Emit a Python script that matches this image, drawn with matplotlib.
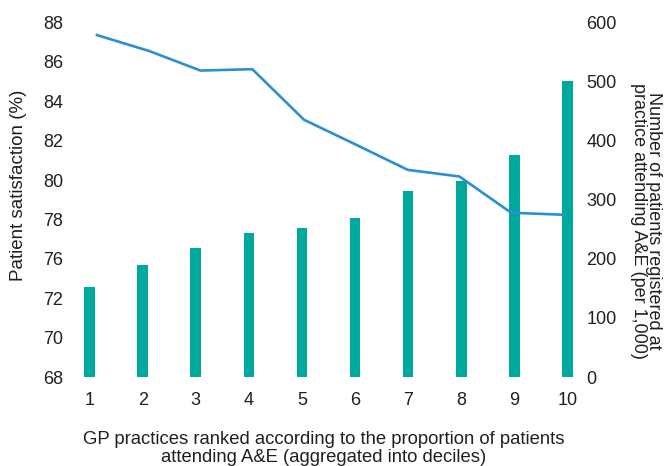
import matplotlib
matplotlib.use("Agg")
import matplotlib.pyplot as plt
from matplotlib.ticker import FixedLocator, FixedFormatter

plt.rcParams['font.family'] = ['Liberation Sans', 'DejaVu Sans']

deciles = [1, 2, 3, 4, 5, 6, 7, 8, 9, 10]
attendance = [153, 190, 218, 244, 253, 269, 315, 331, 375, 501]
satisfaction = [87.36, 86.56, 85.56, 85.63, 83.06, 81.8, 80.52, 80.18, 78.34, 78.24]
left_tick_pos = [70, 72, 74, 76, 78, 80, 82, 84, 86, 88]
left_tick_labels = ['68', '70', '72', '76', '78', '80', '82', '84', '86', '88']
right_ticks = [0, 100, 200, 300, 400, 500, 600]

W, H = 665, 466
fig = plt.figure(figsize=(W / 100, H / 100), dpi=100)
x0, x1, y0, y1 = 70, 578, 22.5, 377
rect = [x0 / W, (H - y1) / H, (x1 - x0) / W, (y1 - y0) / H]

txt = '#231f20'
bar_c = '#00a99d'
line_c = '#2b8fd0'

# bar axes (right y axis, x ticks)
axb = fig.add_axes(rect)
axb.bar(deciles, attendance, width=0.2, color=bar_c, zorder=1)
axb.set_ylim(0, 600)
axb.set_xlim(0.63, 10.2)
axb.set_xticks(deciles)
axb.yaxis.tick_right()
axb.yaxis.set_label_position('right')
axb.yaxis.set_major_locator(FixedLocator(right_ticks))

# line axes (left y axis)
ax = fig.add_axes(rect)
ax.patch.set_visible(False)
ax.plot(deciles, satisfaction, color=line_c, lw=1.9, zorder=3)
ax.set_ylim(70, 88)
ax.set_xlim(0.479, 10.29)
ax.set_xticks([])
ax.yaxis.set_major_locator(FixedLocator(left_tick_pos))
ax.yaxis.set_major_formatter(FixedFormatter(left_tick_labels))

for a in (ax, axb):
    for s in a.spines.values():
        s.set_visible(False)
    a.tick_params(length=0, labelsize=13, colors=txt)

axb.tick_params(axis='x', pad=11)
ax.tick_params(axis='y', pad=5)
axb.tick_params(axis='y', pad=6)

ax.set_ylabel('Patient satisfaction (%)', fontsize=13.5, color=txt)
ax.yaxis.set_label_coords(-0.085, 0.54)
axb.set_ylabel('Number of patients registered at\npractice attending A&E (per 1,000)',
               fontsize=13, color=txt, rotation=270, linespacing=0.9, va='center')
axb.yaxis.set_label_coords(1.134, 0.44)
axb.set_xlabel('GP practices ranked according to the proportion of patients\n'
               'attending A&E (aggregated into deciles)', fontsize=13.3, color=txt,
               linespacing=1.08)
axb.xaxis.set_label_coords(0.5, -0.152)
axb.xaxis.label.set_va('top')

fig.savefig('out.png', dpi=100)
